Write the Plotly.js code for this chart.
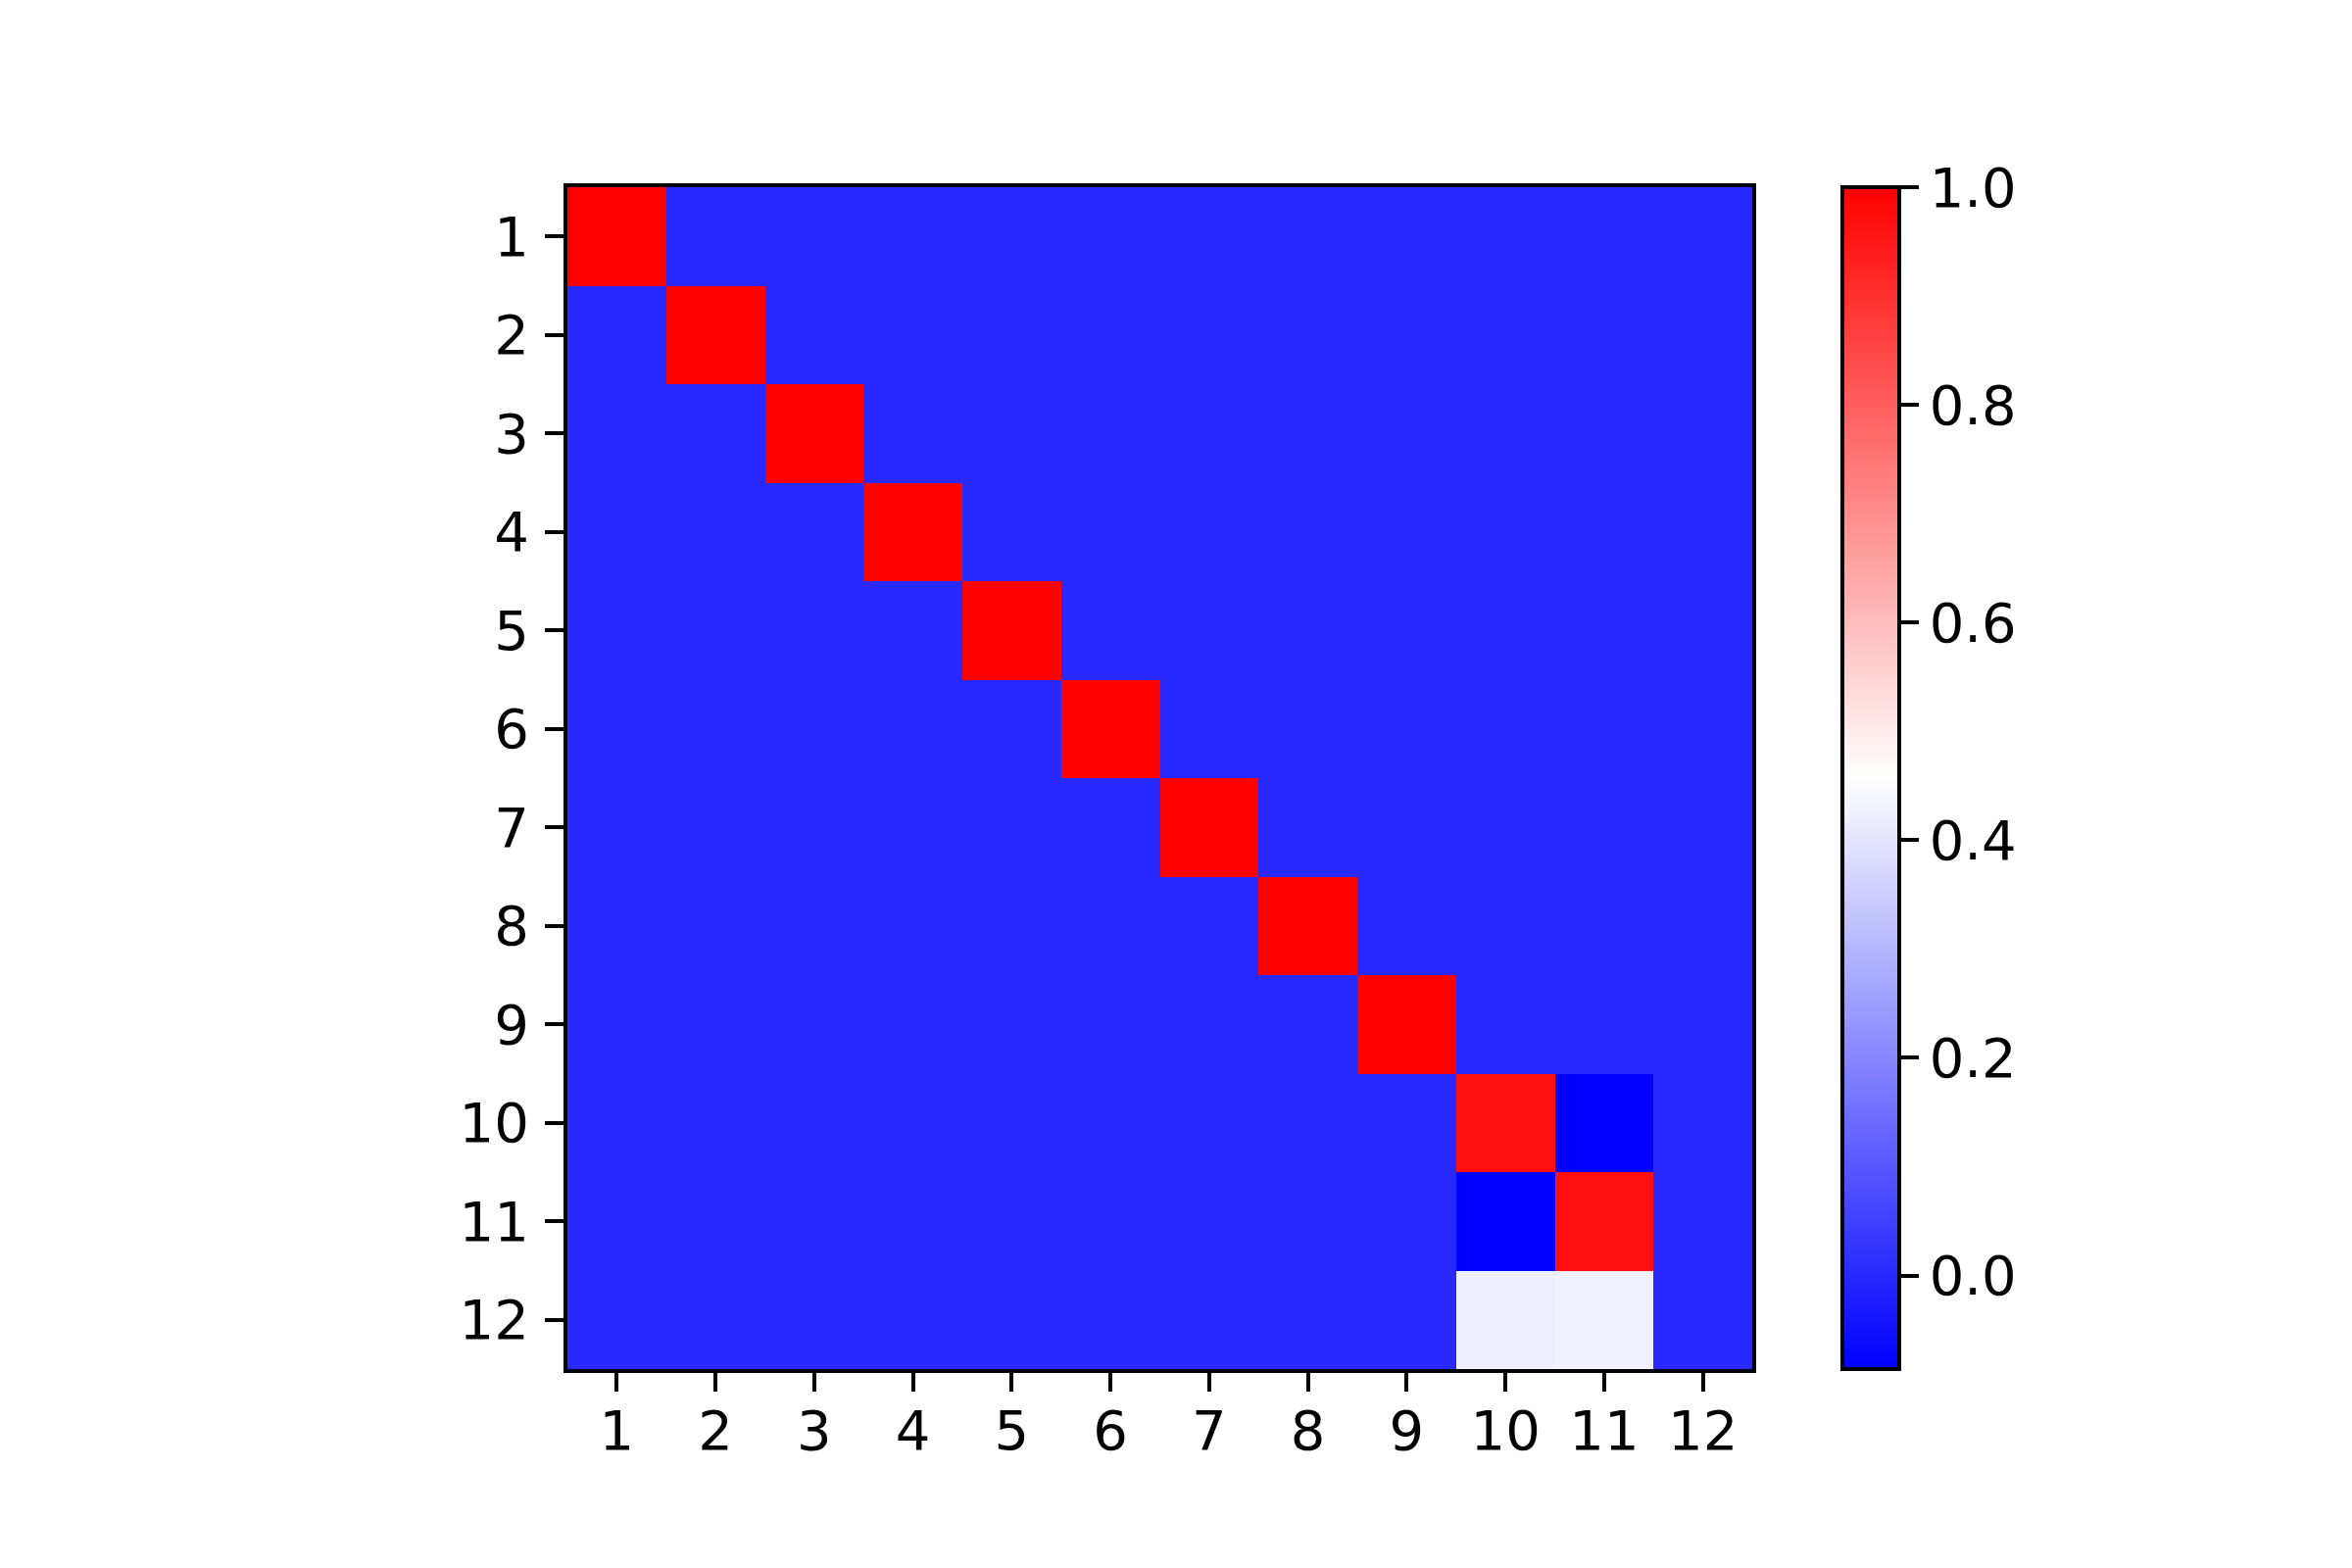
<!DOCTYPE html>
<html>
<head>
<meta charset="utf-8">
<script src="https://cdn.plot.ly/plotly-3.0.1.min.js"></script>
<style>
  html, body { margin: 0; padding: 0; background: #fff; }
  #chart { width: 2400px; height: 1600px; }
</style>
</head>
<body>
<div id="chart"></div>
<script>
'use strict';

// tick labels shared by both axes
const labels = [1, 2, 3, 4, 5, 6, 7, 8, 9, 10, 11, 12];

// correlation-like matrix
const rows = [
  [1, 0, 0, 0, 0, 0, 0, 0, 0, 0, 0, 0],
  [0, 1, 0, 0, 0, 0, 0, 0, 0, 0, 0, 0],
  [0, 0, 1, 0, 0, 0, 0, 0, 0, 0, 0, 0],
  [0, 0, 0, 1, 0, 0, 0, 0, 0, 0, 0, 0],
  [0, 0, 0, 0, 1, 0, 0, 0, 0, 0, 0, 0],
  [0, 0, 0, 0, 0, 1, 0, 0, 0, 0, 0, 0],
  [0, 0, 0, 0, 0, 0, 1, 0, 0, 0, 0, 0],
  [0, 0, 0, 0, 0, 0, 0, 1, 0, 0, 0, 0],
  [0, 0, 0, 0, 0, 0, 0, 0, 1, 0, 0, 0],
  [0, 0, 0, 0, 0, 0, 0, 0, 0, 0.968, -0.086, 0],
  [0, 0, 0, 0, 0, 0, 0, 0, 0, -0.086, 0.968, 0],
  [0, 0, 0, 0, 0, 0, 0, 0, 0, 0.421, 0.425, 0],
];

const zRange = [-0.086, 1.0];
const colorbarTicks = [0, 0.2, 0.4, 0.6, 0.8, 1.0];

// matplotlib "bwr"
const bwr = [
  [0, 'rgb(0,0,255)'],
  [0.5, 'rgb(255,255,255)'],
  [1, 'rgb(255,0,0)'],
];

const font = {family: '"DejaVu Sans", sans-serif', size: 56, color: '#000'};

const plot = {left: 579, right: 1788, top: 191, bottom: 1397};
const W = 2400;
const H = 1600;

const heat = {
  type: 'heatmap',
  x: labels,
  y: labels,
  z: rows,
  zmin: zRange[0],
  zmax: zRange[1],
  colorscale: bwr,
  hoverinfo: 'none',
  colorbar: {
    x: (1880 - plot.left) / (plot.right - plot.left),
    xanchor: 'left',
    xpad: 0,
    ypad: 0,
    y: 0.5,
    yanchor: 'middle',
    len: 1,
    thickness: 58,
    outlinewidth: 4,
    outlinecolor: '#000',
    ticks: 'outside',
    ticklen: 18,
    tickwidth: 4,
    tickcolor: '#000',
    tickvals: colorbarTicks,
    tickformat: '.1f',
    tickprefix: '\u2009',
    tickfont: font,
  },
};

const axisBase = {
  tickvals: labels,
  ticktext: labels.map(String),
  ticks: 'outside',
  ticklen: 19,
  tickwidth: 4,
  tickcolor: '#000',
  tickfont: font,
  showline: true,
  mirror: true,
  linewidth: 4,
  linecolor: '#000',
  showgrid: false,
  zeroline: false,
};

const layout = {
  width: W,
  height: H,
  margin: {l: plot.left, r: W - plot.right, t: plot.top, b: H - plot.bottom, pad: 0},
  paper_bgcolor: '#fff',
  plot_bgcolor: '#fff',
  font: font,
  xaxis: Object.assign({}, axisBase, {range: [0.5, 12.5], ticklabelstandoff: -8}),
  yaxis: Object.assign({}, axisBase, {range: [12.5, 0.5], ticklabelstandoff: 5}),
  showlegend: false,
};

Plotly.newPlot('chart', [heat], layout, {staticPlot: true, displayModeBar: false});
</script>
</body>
</html>
